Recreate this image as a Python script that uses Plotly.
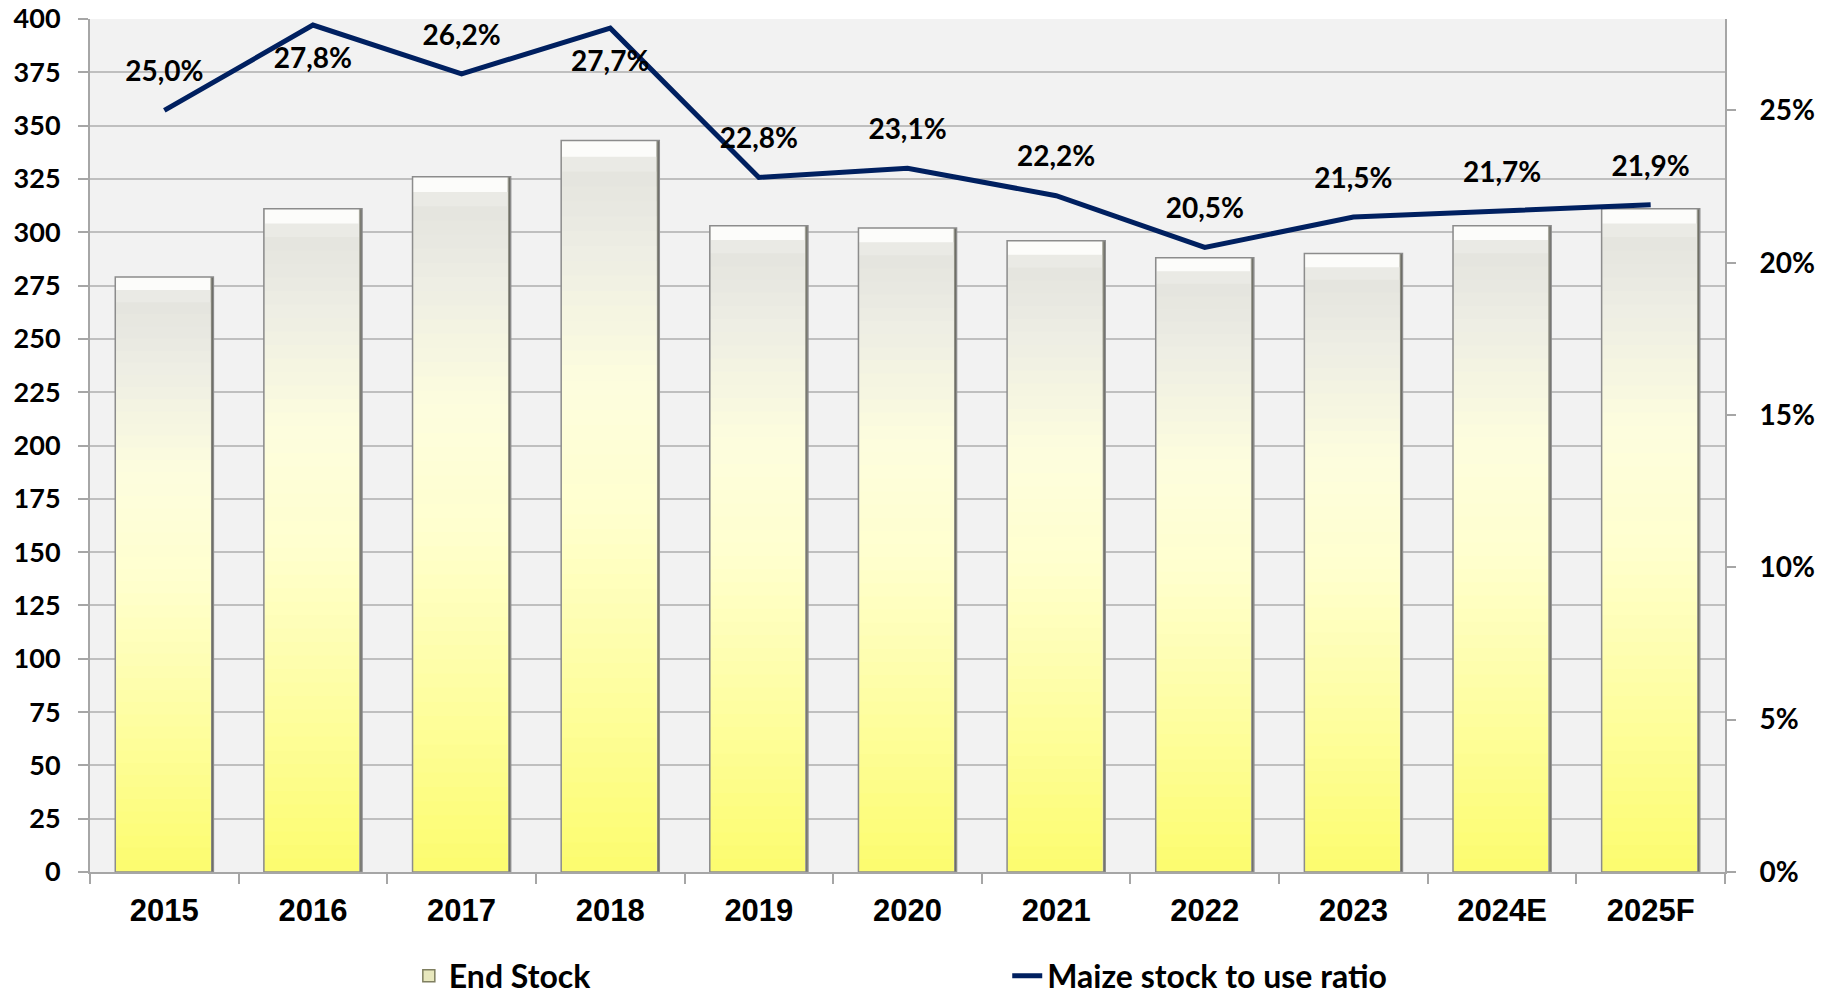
import plotly.graph_objects as go

categories = ["2015", "2016", "2017", "2018", "2019", "2020", "2021", "2022", "2023", "2024E", "2025F"]
end_stock = [279, 311, 326, 343, 303, 302, 296, 288, 290, 303, 311]
stock_to_use = [0.250, 0.278, 0.262, 0.277, 0.228, 0.231, 0.222, 0.205, 0.215, 0.217, 0.219]
label_side = ["top center", "bottom center", "top center", "bottom center", "top center",
              "top center", "top center", "top center", "top center", "top center", "top center"]

# vertical gradient stops for the bars (fraction of bar height -> rgb)
grad_stops = [
    (0.00, (252, 252, 108)),
    (0.10, (253, 253, 128)),
    (0.30, (254, 254, 168)),
    (0.50, (255, 255, 206)),
    (0.68, (253, 253, 222)),
    (0.85, (238, 238, 228)),
    (0.97, (228, 228, 222)),
    (1.00, (252, 252, 250)),
]

# right-edge bevel shading: (bar width, colour)
edge_shades = [(0.66, "rgb(85,85,75)"), (0.652, "rgb(135,135,125)"), (0.644, "rgb(185,185,175)")]


def grad_color(f):
    for (f0, c0), (f1, c1) in zip(grad_stops[:-1], grad_stops[1:]):
        if f0 <= f <= f1:
            t = 0 if f1 == f0 else (f - f0) / (f1 - f0)
            c = [round(a + (b - a) * t) for a, b in zip(c0, c1)]
            return "rgb(%d,%d,%d)" % tuple(c)
    return "rgb(%d,%d,%d)" % grad_stops[-1][1]


fig = go.Figure()

for w, col in edge_shades:
    fig.add_trace(go.Bar(
        x=categories, y=end_stock, marker=dict(color=col, line=dict(width=0)),
        width=w, offset=-0.33, showlegend=False, hoverinfo="skip", yaxis="y",
    ))

n_layers = 48
top_band = 0.978
fracs = [1.0, top_band] + [top_band * (n_layers - i) / n_layers for i in range(1, n_layers)]
for f in fracs:
    fig.add_trace(go.Bar(
        x=categories, y=[v * f for v in end_stock],
        marker=dict(color=grad_color(f), line=dict(width=0)),
        width=0.636, offset=-0.327, showlegend=False, hoverinfo="skip", yaxis="y",
    ))

# outline on top of the layered bars
fig.add_trace(go.Bar(
    x=categories, y=end_stock, name="End Stock",
    marker=dict(color="rgba(0,0,0,0)", line=dict(color="#8C8C8C", width=1.5)),
    width=0.66, offset=-0.33, showlegend=False, hoverinfo="skip", yaxis="y",
))
# legend entry
fig.add_trace(go.Bar(
    x=[None], y=[None], name="End Stock",
    marker=dict(color="rgb(232,232,190)", line=dict(color="#7F7F60", width=1.5)),
    showlegend=True, legend="legend", yaxis="y",
))

fig.add_trace(go.Scatter(
    x=categories, y=stock_to_use, name="Maize stock to use ratio",
    mode="lines", line=dict(color="#002060", width=5),
    yaxis="y2", legend="legend2", showlegend=True, hoverinfo="skip",
))
fig.add_trace(go.Scatter(
    x=categories, y=stock_to_use, mode="markers+text",
    marker=dict(size=34, color="rgba(0,0,0,0)"),
    texttemplate="%{y:.1%}", textposition=label_side,
    textfont=dict(family="Lato", size=28, color="black", weight=700),
    yaxis="y2", showlegend=False, hoverinfo="skip",
))

axis_grey = "#A6A6A6"
fig.update_layout(
    width=1825, height=999,
    margin=dict(l=90, r=100, t=19, b=127, pad=0, autoexpand=False),
    plot_bgcolor="#F2F2F2", paper_bgcolor="white",
    barmode="overlay", separators=", ",
    xaxis=dict(
        type="category", range=[-0.5, len(categories) - 0.5],
        showline=True, linecolor=axis_grey, linewidth=2,
        ticks="outside", tickson="boundaries", ticklen=10, tickcolor=axis_grey, tickwidth=2,
        tickfont=dict(family="Liberation Sans", size=31, color="black", weight=700),
        showgrid=False, ticklabelstandoff=10, automargin=False,
    ),
    yaxis=dict(
        range=[0, 400], dtick=25, showgrid=True, gridcolor="#BFBFBF", gridwidth=2,
        showline=True, linecolor=axis_grey, linewidth=2, zeroline=False,
        ticks="outside", ticklen=10, tickcolor=axis_grey, tickwidth=2,
        tickfont=dict(family="Lato", size=27, color="black", weight=700),
        ticklabelstandoff=12, automargin=False,
    ),
    yaxis2=dict(
        overlaying="y", side="right", range=[0, 0.28], dtick=0.05, tickformat=".0%",
        showgrid=False, showline=True, linecolor=axis_grey, linewidth=2, zeroline=False,
        ticks="outside", ticklen=9, tickcolor=axis_grey, tickwidth=2,
        tickfont=dict(family="Lato", size=28, color="black", weight=700),
        ticklabelstandoff=18, automargin=False,
    ),
    legend=dict(
        x=0.195, y=-0.122, xanchor="left", yanchor="middle", orientation="h",
        font=dict(family="Lato", size=32, color="black", weight=700),
        bgcolor="rgba(0,0,0,0)",
    ),
    legend2=dict(
        x=0.561, y=-0.122, xanchor="left", yanchor="middle", orientation="h",
        font=dict(family="Lato", size=32, color="black", weight=700),
        bgcolor="rgba(0,0,0,0)",
    ),
)

fig.write_html(
    "out.html",
    config={"displayModeBar": False},
    post_script="document.body.style.margin='0';document.body.style.overflow='hidden';",
)
